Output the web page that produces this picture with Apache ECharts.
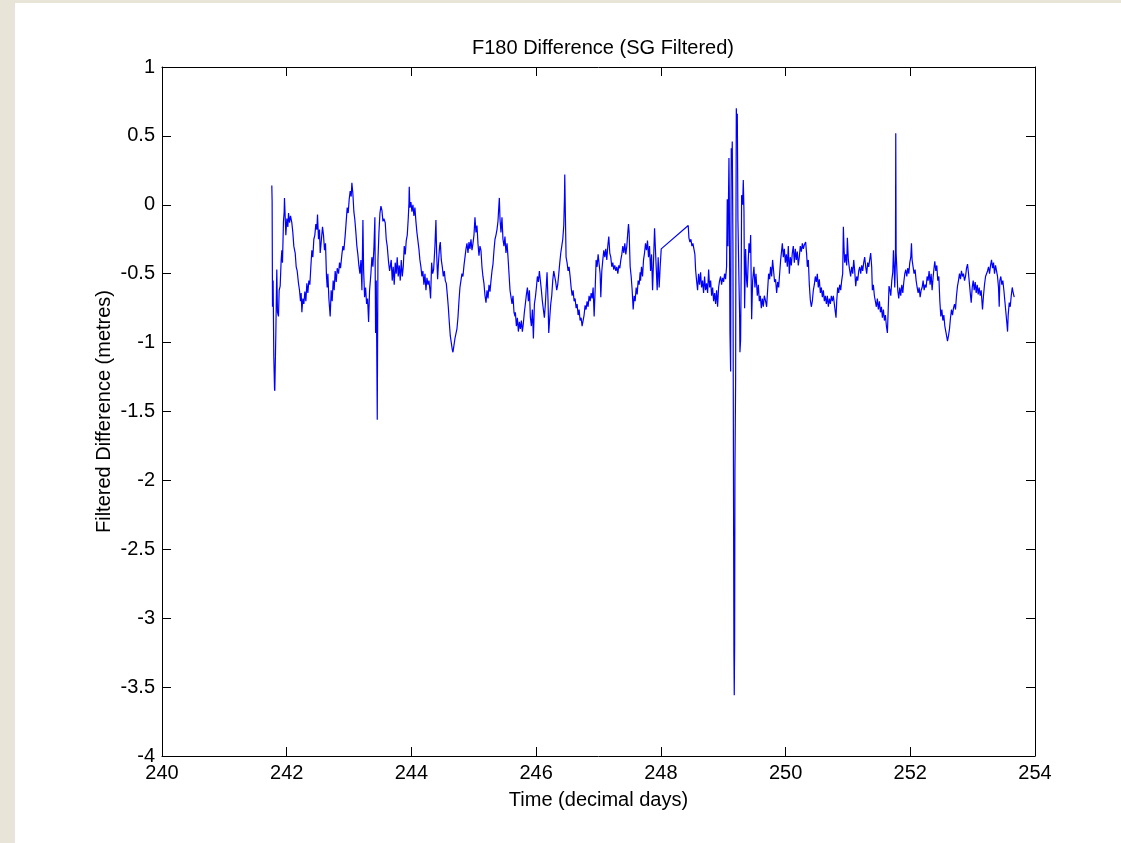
<!DOCTYPE html>
<html>
<head>
<meta charset="utf-8">
<title>F180 Difference (SG Filtered)</title>
<script src="https://cdn.jsdelivr.net/npm/echarts@6/dist/echarts.min.js"></script>
<style>
  html, body { margin: 0; padding: 0; background: #ffffff; }
  #chart { width: 1121px; height: 843px; }
</style>
</head>
<body>
<div id="chart"></div>
<script>
// Axis ticks
const xTicks = { min: 240, max: 254, step: 2 };
const yTicks = { min: -4, max: 1, step: 0.5 };

// Filtered difference [decimal day, metres], in pieces of the record
const partA = [
  [241.761,0.14],[241.766,0.03],[241.772,-0.74],[241.782,-0.55],[241.793,-1.10],[241.804,-1.33],[241.809,-1.35],
  [241.815,-1.20],[241.825,-0.95],[241.836,-0.60],[241.841,-0.47],[241.852,-0.78],[241.868,-0.81],[241.879,-0.62],
  [241.895,-0.59],[241.911,-0.40],[241.922,-0.33],[241.932,-0.42],[241.948,-0.12],[241.959,-0.05],[241.964,0.05],
  [241.975,-0.08],[241.986,-0.22],[242.002,-0.10],[242.018,-0.16],[242.029,-0.06],[242.045,-0.13],[242.061,-0.08],
  [242.082,-0.13],[242.098,-0.20],[242.114,-0.30],[242.136,-0.35],[242.152,-0.45],[242.168,-0.48],[242.189,-0.57],
  [242.205,-0.62],[242.221,-0.70],[242.232,-0.64],[242.243,-0.78],[242.259,-0.68],[242.275,-0.72],[242.291,-0.63],
  [242.307,-0.70],[242.323,-0.57],[242.339,-0.64],[242.355,-0.55],[242.371,-0.58],[242.387,-0.45],[242.403,-0.33],
  [242.419,-0.38],[242.435,-0.25],[242.451,-0.22],[242.467,-0.14],[242.483,-0.18],[242.494,-0.07],[242.510,-0.25],
  [242.526,-0.18],[242.537,-0.35],[242.553,-0.27],[242.574,-0.16],[242.590,-0.22],[242.606,-0.33],[242.622,-0.28],
  [242.638,-0.52],[242.649,-0.60],[242.660,-0.50],[242.676,-0.68],[242.697,-0.81],[242.713,-0.62],[242.729,-0.70],
  [242.745,-0.55],[242.761,-0.62],[242.777,-0.48],[242.794,-0.56],[242.810,-0.46],[242.831,-0.50],[242.847,-0.42],
  [242.863,-0.46],[242.885,-0.36],[242.901,-0.30],[242.917,-0.33],[242.938,-0.22],[242.954,-0.12],[242.970,-0.02],
  [242.986,-0.06],[243.002,0.04],[243.018,0.10],[243.034,0.06],[243.045,0.16],[243.061,0.08],[243.077,-0.05],
  [243.093,-0.11],[243.109,-0.20],[243.125,-0.30],[243.141,-0.36],[243.157,-0.44],[243.174,-0.50],[243.190,-0.40],
  [243.206,-0.62],[243.222,-0.11],[243.233,-0.47],[243.249,-0.67],[243.265,-0.60],[243.281,-0.72],[243.297,-0.68],
  [243.313,-0.85],[243.329,-0.62],[243.350,-0.50],[243.366,-0.38],[243.382,-0.45],[243.398,-0.32],[243.414,-0.09],
  [243.425,-0.93],[243.436,-0.55],[243.452,-1.56],[243.463,-0.40],[243.479,-0.20],[243.495,-0.06],[243.511,-0.01],
  [243.527,-0.04],[243.543,-0.12],[243.559,-0.10],[243.580,-0.13],[243.596,-0.25],[243.612,-0.30],[243.634,-0.42],
  [243.650,-0.48]
];
const partB = [
  [243.660,-0.48],[243.676,-0.40],[243.692,-0.55],[243.708,-0.45],[243.724,-0.58],[243.740,-0.42],[243.756,-0.50],
  [243.772,-0.38],[243.788,-0.52],[243.805,-0.44],[243.821,-0.55],[243.837,-0.40],[243.853,-0.52],[243.869,-0.45],
  [243.885,-0.30],[243.901,-0.36],[243.917,-0.26],[243.933,-0.22],[243.949,-0.10],[243.960,0.01],[243.965,0.13],
  [243.976,-0.02],[243.992,0.02],[244.008,-0.05],[244.024,0.00],[244.040,-0.08],[244.056,-0.02],[244.072,-0.12],
  [244.088,-0.20],[244.104,-0.26],[244.120,-0.32],[244.136,-0.40],[244.152,-0.45],[244.168,-0.52],[244.184,-0.48],
  [244.200,-0.58],[244.217,-0.50],[244.233,-0.62],[244.249,-0.53],[244.265,-0.58],[244.281,-0.55],[244.297,-0.62],
  [244.307,-0.68],[244.324,-0.42],[244.340,-0.50],[244.356,-0.47],[244.377,-0.30],[244.393,-0.11],[244.404,-0.35],
  [244.420,-0.54],[244.436,-0.40],[244.452,-0.30],[244.463,-0.27],[244.479,-0.40],[244.495,-0.45],[244.511,-0.52],
  [244.527,-0.48],[244.543,-0.55],[244.559,-0.57],[244.575,-0.65],[244.591,-0.74],[244.607,-0.85],[244.623,-0.95],
  [244.639,-1.00],[244.655,-1.05],[244.666,-1.07],[244.682,-1.02],[244.698,-0.97],[244.714,-0.98],[244.730,-0.90],
  [244.746,-0.82],[244.762,-0.70],[244.778,-0.60],[244.794,-0.55],[244.810,-0.50],[244.826,-0.52],[244.843,-0.44],
  [244.859,-0.38],[244.875,-0.32],[244.891,-0.28],[244.907,-0.35],[244.923,-0.27],[244.939,-0.32],[244.955,-0.25],
  [244.971,-0.33],[244.987,-0.28],[245.003,-0.22],[245.019,-0.09],[245.035,-0.20],[245.051,-0.15],[245.067,-0.28],
  [245.083,-0.37],[245.099,-0.30],[245.115,-0.33],[245.131,-0.45],[245.147,-0.52],[245.163,-0.57],[245.180,-0.66],
  [245.196,-0.71],[245.212,-0.62],[245.228,-0.68],[245.244,-0.58],[245.260,-0.63],[245.276,-0.55],[245.292,-0.48],
  [245.308,-0.43],[245.324,-0.33],[245.340,-0.25],[245.356,-0.22],[245.372,-0.18],[245.388,-0.12],[245.399,-0.03],
  [245.410,0.05],[245.420,-0.10],[245.436,-0.20],[245.452,-0.09],[245.468,-0.25],[245.484,-0.30],[245.500,-0.23],
  [245.516,-0.35],[245.533,-0.28],[245.549,-0.38],[245.565,-0.50],[245.581,-0.62],[245.597,-0.67],[245.613,-0.72],
  [245.629,-0.66],[245.645,-0.78],[245.661,-0.81]
];
const partC = [
  [245.667,-0.78],[245.683,-0.88],[245.699,-0.82],[245.715,-0.92],[245.731,-0.85],[245.747,-0.90],[245.763,-0.84],
  [245.779,-0.92],[245.795,-0.86],[245.811,-0.78],[245.827,-0.72],[245.844,-0.65],[245.860,-0.60],[245.876,-0.70],
  [245.892,-0.62],[245.908,-0.82],[245.924,-0.88],[245.940,-0.76],[245.956,-0.97],[245.972,-0.72],[245.988,-0.67],
  [246.004,-0.60],[246.020,-0.52],[246.036,-0.56],[246.052,-0.48],[246.068,-0.55],[246.084,-0.62],[246.100,-0.70],
  [246.116,-0.76],[246.132,-0.82],[246.148,-0.72],[246.164,-0.58],[246.175,-0.49],[246.191,-0.70],[246.202,-0.93],
  [246.218,-0.82],[246.234,-0.72],[246.250,-0.66],[246.266,-0.55],[246.282,-0.48],[246.298,-0.52],[246.314,-0.56],
  [246.330,-0.62],[246.346,-0.58],[246.363,-0.50],[246.379,-0.42],[246.395,-0.35],[246.411,-0.30],[246.427,-0.25],
  [246.443,-0.15],[246.454,0.05],[246.459,0.22],[246.470,-0.10],[246.480,-0.38],[246.496,-0.42],[246.512,-0.48],
  [246.528,-0.45],[246.545,-0.52],[246.561,-0.60],[246.577,-0.66],[246.593,-0.62],[246.609,-0.70],[246.625,-0.68],
  [246.641,-0.75],[246.657,-0.72],[246.673,-0.80],[246.689,-0.76],[246.705,-0.84],[246.721,-0.82],[246.737,-0.88],
  [246.753,-0.84],[246.769,-0.80],[246.785,-0.73],[246.801,-0.76],[246.817,-0.70],[246.833,-0.74],[246.849,-0.66],
  [246.866,-0.70],[246.882,-0.64],[246.898,-0.68],[246.914,-0.60],[246.930,-0.81],[246.946,-0.62],[246.962,-0.40],
  [246.978,-0.45],[246.994,-0.36],[247.010,-0.43],[247.026,-0.50],[247.037,-0.67],[247.053,-0.48],[247.069,-0.40],
  [247.085,-0.33],[247.101,-0.38],[247.117,-0.32],[247.133,-0.40],[247.149,-0.30],[247.165,-0.23],[247.181,-0.35],
  [247.197,-0.38],[247.213,-0.45],[247.229,-0.42],[247.245,-0.47],[247.261,-0.44],[247.278,-0.48],[247.294,-0.45],
  [247.310,-0.50],[247.326,-0.44],[247.342,-0.46],[247.358,-0.40],[247.374,-0.36],[247.390,-0.30],[247.406,-0.35],
  [247.422,-0.28],[247.438,-0.36],[247.454,-0.30],[247.470,-0.20],[247.481,-0.14],[247.491,-0.20],[247.508,-0.45],
  [247.524,-0.52],[247.540,-0.62],[247.556,-0.76],[247.572,-0.66],[247.588,-0.70],[247.604,-0.60],[247.620,-0.65],
  [247.636,-0.55],[247.652,-0.58],[247.668,-0.49]
];
const partD = [
  [247.674,-0.55],[247.690,-0.45],[247.706,-0.52],[247.722,-0.40],[247.738,-0.35],[247.754,-0.28],[247.770,-0.33],
  [247.786,-0.26],[247.802,-0.38],[247.818,-0.30],[247.835,-0.48],[247.851,-0.36],[247.867,-0.62],[247.883,-0.40],
  [247.899,-0.17],[247.909,-0.28],[247.925,-0.45],[247.941,-0.62],[247.957,-0.38],[247.973,-0.60],[247.989,-0.45],
  [248.006,-0.32],[248.439,-0.15],[248.450,-0.24],[248.466,-0.27],[248.482,-0.25],[248.498,-0.30],[248.514,-0.28],
  [248.530,-0.32],[248.546,-0.36],[248.557,-0.47],[248.573,-0.55],[248.589,-0.62],[248.605,-0.50],[248.621,-0.58],
  [248.637,-0.49],[248.653,-0.60],[248.669,-0.55],[248.685,-0.64],[248.701,-0.52],[248.717,-0.62],[248.733,-0.57],
  [248.750,-0.64],[248.766,-0.47],[248.782,-0.60],[248.798,-0.55],[248.814,-0.66],[248.830,-0.60],[248.846,-0.70],
  [248.862,-0.64],[248.878,-0.72],[248.894,-0.62],[248.910,-0.74],[248.926,-0.60],[248.942,-0.55],[248.958,-0.52],
  [248.974,-0.58],[248.990,-0.53],[249.006,-0.56],[249.022,-0.50],[249.038,-0.54],
  // burst of large swings around day 249.1-249.3
  [249.054,-0.45],[249.065,0.04],[249.076,-0.30],[249.092,0.34],[249.097,0.10],[249.108,-0.92],[249.119,-1.21],
  [249.124,-0.20],[249.129,0.41],[249.140,0.30],[249.145,0.46],[249.156,-0.30],[249.161,-1.27],[249.167,-2.40],
  [249.172,-3.27],[249.177,-3.56],[249.183,-3.20],[249.188,-1.93],[249.199,-1.27],[249.204,-0.20],[249.210,0.70],
  [249.220,0.55],[249.226,0.66],[249.236,-0.11],[249.252,-0.54],[249.263,-0.80],[249.268,-1.07],[249.279,-0.98],
  [249.290,-0.40],[249.295,0.07],[249.311,0.00],[249.322,0.18],[249.333,-0.05],[249.343,-0.75],[249.359,-0.32],
  [249.375,-0.55],[249.386,-0.60],[249.402,-0.40],[249.413,-0.28],[249.429,-0.35],[249.440,-0.22],[249.456,-0.83],
  [249.472,-0.55],[249.493,-0.45],[249.509,-0.60],[249.525,-0.50],[249.547,-0.66],[249.563,-0.58],[249.579,-0.70],
  [249.595,-0.66],[249.611,-0.75],[249.627,-0.68],[249.643,-0.74],[249.659,-0.66]
];
const partE = [
  [249.680,-0.70],[249.696,-0.74],[249.712,-0.62],[249.728,-0.50],[249.744,-0.54],[249.760,-0.45],[249.776,-0.52],
  [249.792,-0.40],[249.808,-0.48],[249.824,-0.56],[249.840,-0.54],[249.857,-0.64],[249.873,-0.56],[249.889,-0.60],
  [249.905,-0.50],[249.921,-0.40],[249.937,-0.33],[249.948,-0.28],[249.964,-0.38],[249.980,-0.32],[249.996,-0.42],
  [250.012,-0.36],[250.028,-0.45],[250.044,-0.30],[250.060,-0.50],[250.076,-0.38],[250.092,-0.44],[250.108,-0.35],
  [250.124,-0.30],[250.140,-0.42],[250.156,-0.32],[250.172,-0.40],[250.188,-0.34],[250.204,-0.44],[250.220,-0.38],
  [250.236,-0.30],[250.253,-0.34],[250.269,-0.28],[250.285,-0.32],[250.301,-0.29],[250.322,-0.27],[250.338,-0.36],
  [250.349,-0.45],[250.365,-0.40],[250.381,-0.58],[250.397,-0.69],[250.413,-0.74],[250.429,-0.70],[250.445,-0.62],
  [250.461,-0.58],[250.477,-0.52],[250.493,-0.56],[250.509,-0.50],[250.525,-0.60],[250.541,-0.54],[250.558,-0.64],
  [250.574,-0.60],[250.590,-0.67],[250.606,-0.62],[250.622,-0.70],[250.638,-0.66],[250.654,-0.72],[250.670,-0.66],
  [250.686,-0.74],[250.702,-0.68],[250.718,-0.72],[250.734,-0.66],[250.750,-0.70],[250.766,-0.66],[250.782,-0.72],
  [250.798,-0.78],[250.809,-0.82],[250.820,-0.70],[250.836,-0.60],[250.852,-0.64],[250.868,-0.58],[250.884,-0.62],
  [250.900,-0.55],[250.916,-0.50],[250.927,-0.16],[250.938,-0.32],[250.948,-0.42],[250.964,-0.36],[250.980,-0.44],
  [250.991,-0.24],[251.007,-0.40],[251.023,-0.46],[251.044,-0.52],[251.060,-0.45],[251.077,-0.50],[251.093,-0.40],
  [251.109,-0.48],[251.125,-0.59],[251.141,-0.52],[251.157,-0.55],[251.173,-0.48],[251.189,-0.45],[251.205,-0.50],
  [251.221,-0.44],[251.237,-0.48],[251.253,-0.42],[251.269,-0.38],[251.285,-0.45],[251.301,-0.50],[251.317,-0.42],
  [251.333,-0.45],[251.349,-0.40],[251.365,-0.35],[251.381,-0.45],[251.392,-0.62],[251.408,-0.58],[251.424,-0.66],
  [251.440,-0.70],[251.456,-0.74],[251.472,-0.68],[251.488,-0.76],[251.505,-0.70],[251.521,-0.78],[251.537,-0.74],
  [251.553,-0.82],[251.569,-0.76],[251.585,-0.84],[251.601,-0.80],[251.617,-0.88],[251.633,-0.93],[251.643,-0.80],
  [251.659,-0.59],[251.675,-0.62]
];
const partF = [
  [251.687,-0.66],[251.703,-0.55],[251.719,-0.49],[251.730,-0.33],[251.741,-0.45],[251.751,-0.60],[251.762,-0.40],
  [251.767,0.52],[251.773,-0.35],[251.783,-0.45],[251.799,-0.62],[251.815,-0.68],[251.831,-0.60],[251.847,-0.66],
  [251.864,-0.58],[251.880,-0.64],[251.896,-0.56],[251.912,-0.50],[251.928,-0.47],[251.944,-0.52],[251.960,-0.46],
  [251.976,-0.50],[251.992,-0.42],[252.008,-0.38],[252.019,-0.28],[252.029,-0.40],[252.045,-0.45],[252.061,-0.50],
  [252.077,-0.47],[252.094,-0.55],[252.110,-0.60],[252.126,-0.64],[252.142,-0.60],[252.158,-0.67],[252.174,-0.62],
  [252.190,-0.60],[252.206,-0.55],[252.222,-0.62],[252.238,-0.58],[252.254,-0.60],[252.270,-0.52],[252.286,-0.55],
  [252.302,-0.48],[252.318,-0.58],[252.334,-0.50],[252.350,-0.62],[252.367,-0.52],[252.383,-0.45],[252.393,-0.41],
  [252.409,-0.48],[252.425,-0.44],[252.441,-0.55],[252.458,-0.52],[252.474,-0.70],[252.490,-0.81],[252.506,-0.76],
  [252.522,-0.84],[252.538,-0.80],[252.554,-0.88],[252.570,-0.92],[252.586,-0.96],[252.597,-0.99],[252.613,-0.95],
  [252.629,-0.90],[252.645,-0.82],[252.661,-0.76],[252.677,-0.80],[252.693,-0.75],[252.709,-0.72],[252.725,-0.76],
  [252.741,-0.66],[252.757,-0.59],[252.773,-0.55],[252.789,-0.50],[252.805,-0.54],[252.821,-0.48],[252.837,-0.52],
  [252.853,-0.50],[252.870,-0.55],[252.886,-0.52],[252.902,-0.46],[252.918,-0.43],[252.934,-0.50],[252.950,-0.58],
  [252.966,-0.66],[252.977,-0.71],[252.993,-0.60],[253.009,-0.55],[253.025,-0.62],[253.041,-0.56],[253.057,-0.64],
  [253.073,-0.58],[253.089,-0.65],[253.105,-0.60],[253.121,-0.66],[253.137,-0.62],[253.158,-0.76],[253.174,-0.66],
  [253.190,-0.58],[253.207,-0.52],[253.223,-0.50],[253.239,-0.48],[253.255,-0.45],[253.271,-0.50],[253.287,-0.44],
  [253.303,-0.40],[253.319,-0.46],[253.335,-0.42],[253.351,-0.50],[253.367,-0.44],[253.383,-0.48],[253.399,-0.52],
  [253.415,-0.60],[253.426,-0.74],[253.436,-0.55],[253.452,-0.52],[253.468,-0.58],[253.484,-0.55],[253.501,-0.62],
  [253.517,-0.70],[253.533,-0.78],[253.549,-0.86],[253.560,-0.92],[253.570,-0.80],[253.587,-0.71],[253.603,-0.74],
  [253.619,-0.66],[253.635,-0.60],[253.651,-0.64],[253.667,-0.67]
];

const series = [].concat(partA, partB, partC, partD, partE, partF);

const FONT = '"Liberation Sans", Arial, Helvetica, sans-serif';
const tickStyle = { show: true, inside: true, length: 9, lineStyle: { color: '#000', width: 1 } };
const lineStyle = { show: true, onZero: false, lineStyle: { color: '#000', width: 1 } };
const labelStyle = { color: '#000', fontFamily: FONT, fontSize: 20 };

const chart = echarts.init(document.getElementById('chart'), null, { renderer: 'canvas' });

chart.setOption({
  animation: false,
  backgroundColor: '#ffffff',
  title: {
    text: 'F180 Difference (SG Filtered)',
    left: 598, top: 33, textAlign: 'center',
    textStyle: { color: '#000', fontFamily: FONT, fontSize: 20, fontWeight: 'normal' }
  },
  graphic: [
    { type: 'rect', left: 0, top: 0, shape: { width: 15, height: 843 }, style: { fill: '#e8e4d8' }, silent: true },
    { type: 'rect', left: 0, top: 0, shape: { width: 1121, height: 3 }, style: { fill: '#e8e4d8' }, silent: true }
  ],
  grid: { left: 162, top: 67, right: 86, bottom: 87, containLabel: false },
  xAxis: [
    {
      type: 'value', min: xTicks.min, max: xTicks.max, interval: xTicks.step,
      position: 'bottom',
      axisLine: lineStyle, axisTick: tickStyle, splitLine: { show: false },
      axisLabel: Object.assign({ margin: 7 }, labelStyle),
      name: 'Time (decimal days)', nameLocation: 'middle', nameGap: 34, nameMoveOverlap: false,
      nameTextStyle: { color: '#000', fontFamily: FONT, fontSize: 20 }
    },
    {
      type: 'value', min: xTicks.min, max: xTicks.max, interval: xTicks.step,
      position: 'top',
      axisLine: lineStyle, axisTick: tickStyle, splitLine: { show: false },
      axisLabel: { show: false }
    }
  ],
  yAxis: [
    {
      type: 'value', min: yTicks.min, max: yTicks.max, interval: yTicks.step,
      position: 'left',
      axisLine: lineStyle, axisTick: tickStyle, splitLine: { show: false },
      axisLabel: Object.assign({ margin: 7 }, labelStyle),
      name: 'Filtered Difference (metres)', nameLocation: 'middle', nameGap: 48, nameMoveOverlap: false,
      nameTextStyle: { color: '#000', fontFamily: FONT, fontSize: 20 }
    },
    {
      type: 'value', min: yTicks.min, max: yTicks.max, interval: yTicks.step,
      position: 'right',
      axisLine: lineStyle, axisTick: tickStyle, splitLine: { show: false },
      axisLabel: { show: false }
    }
  ],
  series: [{
    type: 'line',
    data: series,
    xAxisIndex: 0, yAxisIndex: 0,
    showSymbol: false,
    lineStyle: { color: '#0000ff', width: 1.2 },
    itemStyle: { color: '#0000ff' }
  }]
});
</script>
</body>
</html>
